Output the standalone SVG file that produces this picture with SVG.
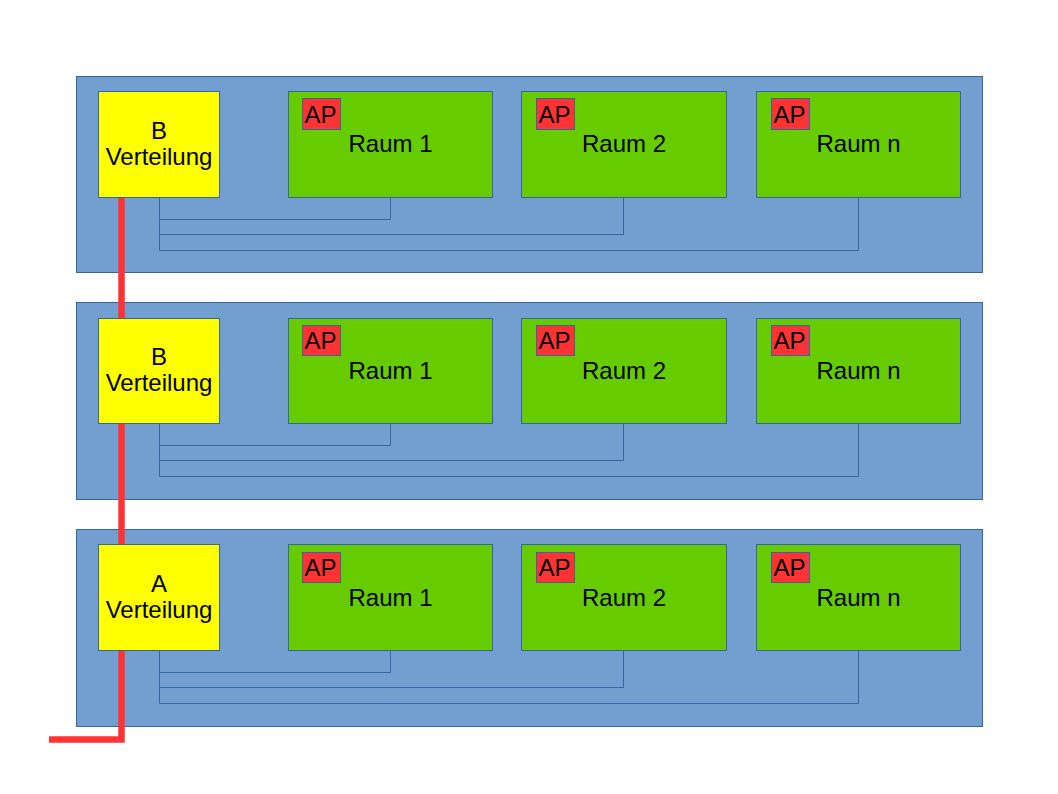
<svg xmlns="http://www.w3.org/2000/svg" width="1058" height="794" viewBox="0 0 1058 794">
<style>
.floor{fill:#729fcf;stroke:#3465a4;stroke-width:1}
.vt{fill:#ffff00;stroke:#3465a4;stroke-width:1}
.room{fill:#66cc00;stroke:#3465a4;stroke-width:1}
.ap{fill:#ff3333;stroke:#3465a4;stroke-width:1}
.wire{fill:none;stroke:#3465a4;stroke-width:1}
.red{fill:none;stroke:#ff3333;stroke-width:6.5}
text{font-family:"Liberation Sans",Arial,sans-serif;font-size:24px;fill:#000}
.c{text-anchor:middle}
</style>
<rect width="1058" height="794" fill="#fff"/>
<g id="floors">
<rect id="floor1" class="floor" x="76.5" y="76.5" width="906" height="196"/>
<rect id="floor2" class="floor" x="76.5" y="302.5" width="906" height="197"/>
<rect id="floor3" class="floor" x="76.5" y="529.5" width="906" height="197"/>
</g>
<g id="connectors">
<g transform="translate(0,0)">
<path class="wire" d="M159.5,197.5V219.5H390.5V197.5M159.5,219.5V234.5H623.5V197.5M159.5,234.5V250.5H858.5V197.5"/>
</g>
<g transform="translate(0,226)">
<path class="wire" d="M159.5,197.5V219.5H390.5V197.5M159.5,219.5V234.5H623.5V197.5M159.5,234.5V250.5H858.5V197.5"/>
</g>
<g transform="translate(0,453)">
<path class="wire" d="M159.5,197.5V219.5H390.5V197.5M159.5,219.5V234.5H623.5V197.5M159.5,234.5V250.5H858.5V197.5"/>
</g>
<path id="feed" class="red" d="M121.5,197V739.5H49"/>
</g>
<g id="vt1"><rect class="vt" x="98.5" y="91.5" width="121" height="106"/><text class="c" x="159" y="139">B</text><text class="c" x="159" y="164.5">Verteilung</text></g>
<g id="r1_1"><rect class="room" x="288.5" y="91.5" width="204" height="106"/><rect class="ap" x="302.5" y="98.5" width="38" height="31"/><text x="304.5" y="122.5">AP</text><text class="c" x="390.5" y="151.5">Raum 1</text></g>
<g id="r1_2"><rect class="room" x="521.5" y="91.5" width="205" height="106"/><rect class="ap" x="536.5" y="98.5" width="38" height="31"/><text x="538.5" y="122.5">AP</text><text class="c" x="624" y="151.5">Raum 2</text></g>
<g id="r1_n"><rect class="room" x="756.5" y="91.5" width="204" height="106"/><rect class="ap" x="771.5" y="98.5" width="38" height="31"/><text x="773.5" y="122.5">AP</text><text class="c" x="858.5" y="151.5">Raum n</text></g>
<g id="vt2"><rect class="vt" x="98.5" y="318.5" width="121" height="105"/><text class="c" x="159" y="365">B</text><text class="c" x="159" y="391">Verteilung</text></g>
<g id="r2_1"><rect class="room" x="288.5" y="318.5" width="204" height="105"/><rect class="ap" x="302.5" y="325.5" width="38" height="30"/><text x="304.5" y="349">AP</text><text class="c" x="390.5" y="378.5">Raum 1</text></g>
<g id="r2_2"><rect class="room" x="521.5" y="318.5" width="205" height="105"/><rect class="ap" x="536.5" y="325.5" width="38" height="30"/><text x="538.5" y="349">AP</text><text class="c" x="624" y="378.5">Raum 2</text></g>
<g id="r2_n"><rect class="room" x="756.5" y="318.5" width="204" height="105"/><rect class="ap" x="771.5" y="325.5" width="38" height="30"/><text x="773.5" y="349">AP</text><text class="c" x="858.5" y="378.5">Raum n</text></g>
<g id="vt3"><rect class="vt" x="98.5" y="544.5" width="121" height="106"/><text class="c" x="159" y="592">A</text><text class="c" x="159" y="618">Verteilung</text></g>
<g id="r3_1"><rect class="room" x="288.5" y="544.5" width="204" height="106"/><rect class="ap" x="302.5" y="552.5" width="38" height="30"/><text x="304.5" y="576">AP</text><text class="c" x="390.5" y="605.5">Raum 1</text></g>
<g id="r3_2"><rect class="room" x="521.5" y="544.5" width="205" height="106"/><rect class="ap" x="536.5" y="552.5" width="38" height="30"/><text x="538.5" y="576">AP</text><text class="c" x="624" y="605.5">Raum 2</text></g>
<g id="r3_n"><rect class="room" x="756.5" y="544.5" width="204" height="106"/><rect class="ap" x="771.5" y="552.5" width="38" height="30"/><text x="773.5" y="576">AP</text><text class="c" x="858.5" y="605.5">Raum n</text></g>
</svg>
